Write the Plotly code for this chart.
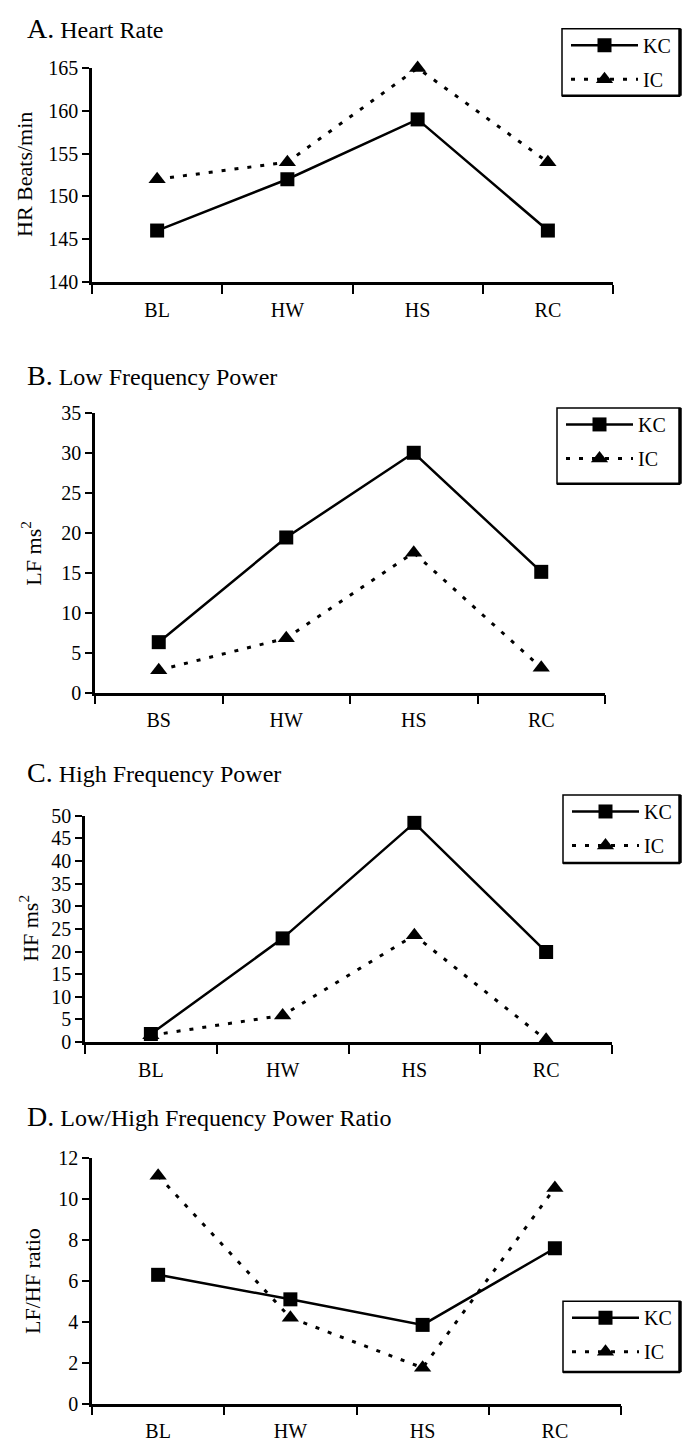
import plotly.graph_objects as go

# ---------------- data ----------------
cats_A = ["BL", "HW", "HS", "RC"]
hr_kc = [146, 152, 159, 146]
hr_ic = [152, 154, 165, 154]

cats_B = ["BS", "HW", "HS", "RC"]
lf_kc = [6.3, 19.4, 30.0, 15.1]
lf_ic = [2.8, 6.8, 17.5, 3.1]

cats_C = ["BL", "HW", "HS", "RC"]
hf_kc = [1.8, 22.9, 48.4, 19.9]
hf_ic = [1.5, 5.9, 23.6, 0.5]

cats_D = ["BL", "HW", "HS", "RC"]
ratio_kc = [6.3, 5.1, 3.85, 7.6]
ratio_ic = [11.15, 4.2, 1.75, 10.55]

series_names = ["KC", "IC"]

W, H = 688, 1451
FONT = "Liberation Serif"


def px(x):
    return x / W


def py(y):
    return 1 - y / H


panels = [
    dict(cats=cats_A, kc=hr_kc, ic=hr_ic, rng=[140, 165], dtick=5,
         title="A.", sub="Heart Rate", ytitle="HR Beats/min",
         dom=(92, 613, 58, 275), tity=18, ytx=25,
         box=(562, 680, 18, 86)),
    dict(cats=cats_B, kc=lf_kc, ic=lf_ic, rng=[0, 35], dtick=5,
         title="B.", sub="Low Frequency Power", ytitle="LF ms<sup>2</sup>",
         dom=(95, 605, 408, 692), tity=370, ytx=31,
         box=(557, 680, 403, 480)),
    dict(cats=cats_C, kc=hf_kc, ic=hf_ic, rng=[0, 50], dtick=5,
         title="C.", sub="High Frequency Power", ytitle="HF ms<sup>2</sup>",
         dom=(85, 612, 817, 1047), tity=773, ytx=29,
         box=(563, 680, 796, 865)),
    dict(cats=cats_D, kc=ratio_kc, ic=ratio_ic, rng=[0, 12], dtick=2,
         title="D.", sub="Low/High Frequency Power Ratio", ytitle="LF/HF ratio",
         dom=(92, 621, 1165, 1414), tity=1123, ytx=33,
         box=(563, 680, 1310, 1382)),
]

fig = go.Figure()
annotations = []
shapes = []
layout_extra = {}

for i, p in enumerate(panels):
    n = "" if i == 0 else str(i + 1)
    xa, ya = "x" + n, "y" + n
    leg = "legend" + n
    fig.add_trace(go.Scatter(
        x=p["cats"], y=p["kc"], name=series_names[0], mode="lines+markers",
        xaxis=xa, yaxis=ya, legend=leg, legendgroup="kc" + n,
        line=dict(color="black", width=2.5),
        marker=dict(symbol="square", size=14, color="black"),
        cliponaxis=False, showlegend=True))
    fig.add_trace(go.Scatter(
        x=p["cats"], y=p["ic"], name=series_names[1], mode="lines+markers",
        xaxis=xa, yaxis=ya, legend=leg, legendgroup="ic" + n,
        line=dict(color="black", width=3, dash="4px,9px"),
        marker=dict(symbol="triangle-up", size=15, color="black"),
        cliponaxis=False, showlegend=True))

    x0, x1, y0, y1 = p["dom"]
    layout_extra["xaxis" + n] = dict(
        domain=[px(x0), px(x1)], anchor=ya, type="category",
        categoryarray=p["cats"], range=[-0.5, 3.5], tickson="boundaries",
        ticks="outside", ticklen=9, tickwidth=2, tickcolor="black",
        showline=True, linecolor="black", linewidth=2.5, showgrid=False,
        zeroline=False, ticklabelstandoff=8,
        tickfont=dict(family=FONT, size=20, color="black"))
    layout_extra["yaxis" + n] = dict(
        domain=[py(y1), py(y0)], anchor=xa, range=p["rng"], dtick=p["dtick"],
        tick0=p["rng"][0], ticks="outside", ticklen=7, tickwidth=2,
        tickcolor="black", showline=True, linecolor="black", linewidth=2.5,
        showgrid=False, zeroline=False,
        tickfont=dict(family=FONT, size=20, color="black"))

    bx0, bx1, by0, by1 = p["box"]
    layout_extra[leg] = dict(
        x=px(bx0 + 4), y=py(by0 - 3), xanchor="left", yanchor="top",
        bgcolor="rgba(0,0,0,0)", borderwidth=0, tracegroupgap=5,
        itemwidth=67,
        font=dict(family=FONT, size=20, color="black"))
    shapes.append(dict(type="rect", xref="paper", yref="paper",
                       x0=px(bx0), x1=px(bx1), y0=py(by1), y1=py(by0),
                       line=dict(color="black", width=1.5)))
    shapes.append(dict(type="line", xref="paper", yref="paper",
                       x0=px(bx1), x1=px(bx1), y0=py(by1), y1=py(by0),
                       line=dict(color="black", width=3.5)))
    shapes.append(dict(type="line", xref="paper", yref="paper",
                       x0=px(bx0), x1=px(bx1), y0=py(by1), y1=py(by1),
                       line=dict(color="black", width=2.5)))

    annotations.append(dict(
        xref="paper", yref="paper", x=px(25), y=py(p["tity"]),
        xanchor="left", yanchor="middle", showarrow=False,
        text="<span style='font-size:28px'>" + p["title"] + "</span> " + p["sub"],
        font=dict(family=FONT, size=24, color="black")))
    annotations.append(dict(
        xref="paper", yref="paper", x=px(p["ytx"]), y=py((y0 + y1) / 2),
        xanchor="center", yanchor="middle", showarrow=False, textangle=-90,
        text=p["ytitle"], font=dict(family=FONT, size=22, color="black")))

fig.update_layout(
    width=W, height=H, margin=dict(l=0, r=0, t=0, b=0),
    paper_bgcolor="white", plot_bgcolor="white",
    font=dict(family=FONT, color="black"),
    annotations=annotations, shapes=shapes, **layout_extra)

fig.write_html("out.html", config={"displayModeBar": False},
               post_script="document.body.style.margin='0';")
